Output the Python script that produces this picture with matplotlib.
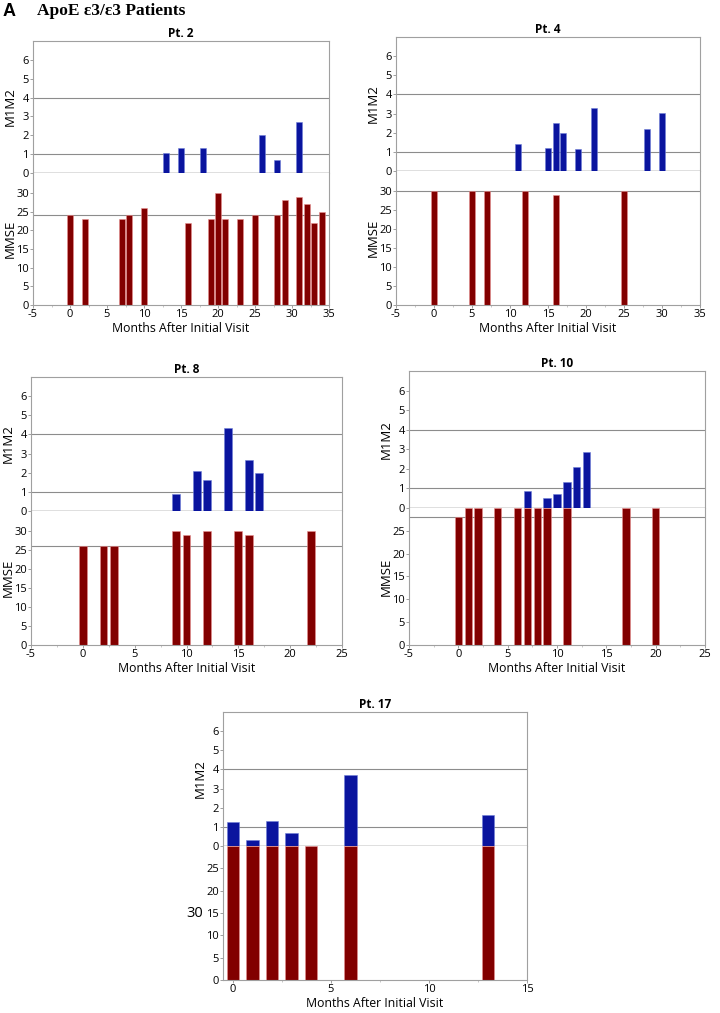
import numpy as np
import matplotlib.pyplot as plt
from matplotlib.ticker import AutoMinorLocator

plt.rcParams['font.family'] = ['Open Sans', 'DejaVu Sans']
plt.rcParams['axes.unicode_minus'] = False

BLUE = '#0a149e'
RED = '#820000'

# Pt. 2
p2_m_months = [13, 15, 18, 26, 28, 31]
p2_m1m2 = [1.08, 1.35, 1.33, 2.0, 0.67, 2.68]
p2_s_months = [0, 2, 7, 8, 10, 16, 19, 20, 21, 23, 25, 28, 29, 31, 32, 33, 34]
p2_mmse = [24, 23, 23, 24, 26, 22, 23, 30, 23, 23, 24, 24, 28, 29, 27, 22, 25]

# Pt. 4
p4_m_months = [11, 15, 16, 17, 19, 21, 28, 30]
p4_m1m2 = [1.42, 1.22, 2.53, 2.01, 1.17, 3.27, 2.19, 3.02]
p4_s_months = [0, 5, 7, 12, 16, 25]
p4_mmse = [30, 30, 30, 30, 29, 30]

# Pt. 8
p8_m_months = [9, 11, 12, 14, 16, 17]
p8_m1m2 = [0.91, 2.11, 1.62, 4.31, 2.67, 1.97]
p8_s_months = [0, 2, 3, 9, 10, 12, 15, 16, 22]
p8_mmse = [26, 26, 26, 30, 29, 30, 30, 29, 30]

# Pt. 10
p10_m_months = [7, 9, 10, 11, 12, 13]
p10_m1m2 = [0.86, 0.50, 0.69, 1.33, 2.07, 2.87]
p10_s_months = [0, 1, 2, 4, 6, 7, 8, 9, 11, 17, 20]
p10_mmse = [28, 30, 30, 30, 30, 30, 30, 30, 30, 30, 30]

# Pt. 17
p17_m_months = [0, 1, 2, 3, 4, 6, 13]
p17_m1m2 = [1.24, 0.31, 1.29, 0.68, 0.0, 3.70, 1.62]
p17_s_months = [0, 1, 2, 3, 4, 6, 13]
p17_mmse = [30, 30, 30, 30, 30, 30, 30]

W, H = 720, 1013
fig = plt.figure(figsize=(W / 100, H / 100), dpi=100)


def panel(box, title, mm, mv, sm, sv, xlim, xticks, width, stop, sticks, ylab2='MMSE', ylab2_rot=90):
	left, top, right, bottom = box
	mid = (top + bottom) / 2
	ax1 = fig.add_axes([left / W, 1 - mid / H, (right - left) / W, (mid - top) / H])
	ax2 = fig.add_axes([left / W, 1 - bottom / H, (right - left) / W, (bottom - mid) / H])
	lab_x = -22.5 / (right - left)  # label centre ~22 px left of the spine
	for ax in (ax1, ax2):
		ax.set_xlim(*xlim)
		for s in ax.spines.values():
			s.set_color('#a0a0a0')
			s.set_linewidth(0.8)
		ax.tick_params(length=2, width=0.6, color='#909090', labelsize=8, pad=1)
	ax1.spines['bottom'].set_visible(False)
	ax2.spines['top'].set_visible(False)

	# M1M2 part
	ax1.set_ylim(0, 7)
	ax1.set_yticks(range(0, 7))
	ax1.set_xticks([])
	ax1.axhline(0, color='#dcdcdc', lw=1.3, zorder=0.5)
	for y in (1, 4):
		ax1.axhline(y, color='#8c8c8c', lw=0.8, zorder=0.5)
	ax1.bar(mm, mv, width=width, color=BLUE, edgecolor='#6f7fd8', linewidth=0.4, zorder=2)
	ax1.set_ylabel('M1M2', fontsize=9.5, va='center')
	ax1.yaxis.set_label_coords(lab_x, 0.5)
	ax1.set_title(title, fontsize=8.5, fontweight='bold', pad=3)

	# MMSE part
	ax2.set_ylim(0, stop)
	ax2.set_yticks(sticks)
	ax2.set_xticks(xticks)
	ax2.xaxis.set_minor_locator(AutoMinorLocator(2))
	ax2.tick_params(which='minor', length=1.5, width=0.5, color='#b0b0b0')
	if sv[0] < stop:
		ax2.axhline(sv[0], color='#8c8c8c', lw=0.8, zorder=0.5)
	ax2.bar(sm, sv, width=width, color=RED, edgecolor='#e89090', linewidth=0.4, zorder=2)
	if ylab2_rot == 90:
		ax2.set_ylabel(ylab2, fontsize=9.5, va='center')
		ax2.yaxis.set_label_coords(lab_x, 0.5)
	else:
		ax2.set_ylabel(ylab2, fontsize=10.5, rotation=0, labelpad=8, va='center')
	ax2.set_xlabel('Months After Initial Visit', fontsize=8.8, labelpad=1)
	return ax1, ax2


panel((33, 41, 329, 305), 'Pt. 2', p2_m_months, p2_m1m2, p2_s_months, p2_mmse,
	(-5, 35), range(-5, 36, 5), 0.8, 35.3, range(0, 31, 5))
panel((396, 37, 700, 305), 'Pt. 4', p4_m_months, p4_m1m2, p4_s_months, p4_mmse,
	(-5, 35), range(-5, 36, 5), 0.8, 35.3, range(0, 31, 5))
panel((31, 377, 342, 645), 'Pt. 8', p8_m_months, p8_m1m2, p8_s_months, p8_mmse,
	(-5, 25), range(-5, 26, 5), 0.75, 35.3, range(0, 31, 5))
panel((409, 371, 705, 645), 'Pt. 10', p10_m_months, p10_m1m2, p10_s_months, p10_mmse,
	(-5, 25), range(-5, 26, 5), 0.75, 30, range(0, 26, 5))
panel((223, 712, 527, 980), 'Pt. 17', p17_m_months, p17_m1m2, p17_s_months, p17_mmse,
	(-0.5, 15), range(0, 16, 5), 0.63, 30, range(0, 26, 5), ylab2='30', ylab2_rot=0)

fig.text(3 / W, 1 - 11 / H, 'A', fontsize=13, fontweight='bold', family='Liberation Sans', va='center')
fig.text(37 / W, 1 - 11 / H, 'ApoE ε3/ε3 Patients', fontsize=12.5, fontweight='bold',
	family='Liberation Serif', va='center')

plt.savefig('out.png', dpi=100)
